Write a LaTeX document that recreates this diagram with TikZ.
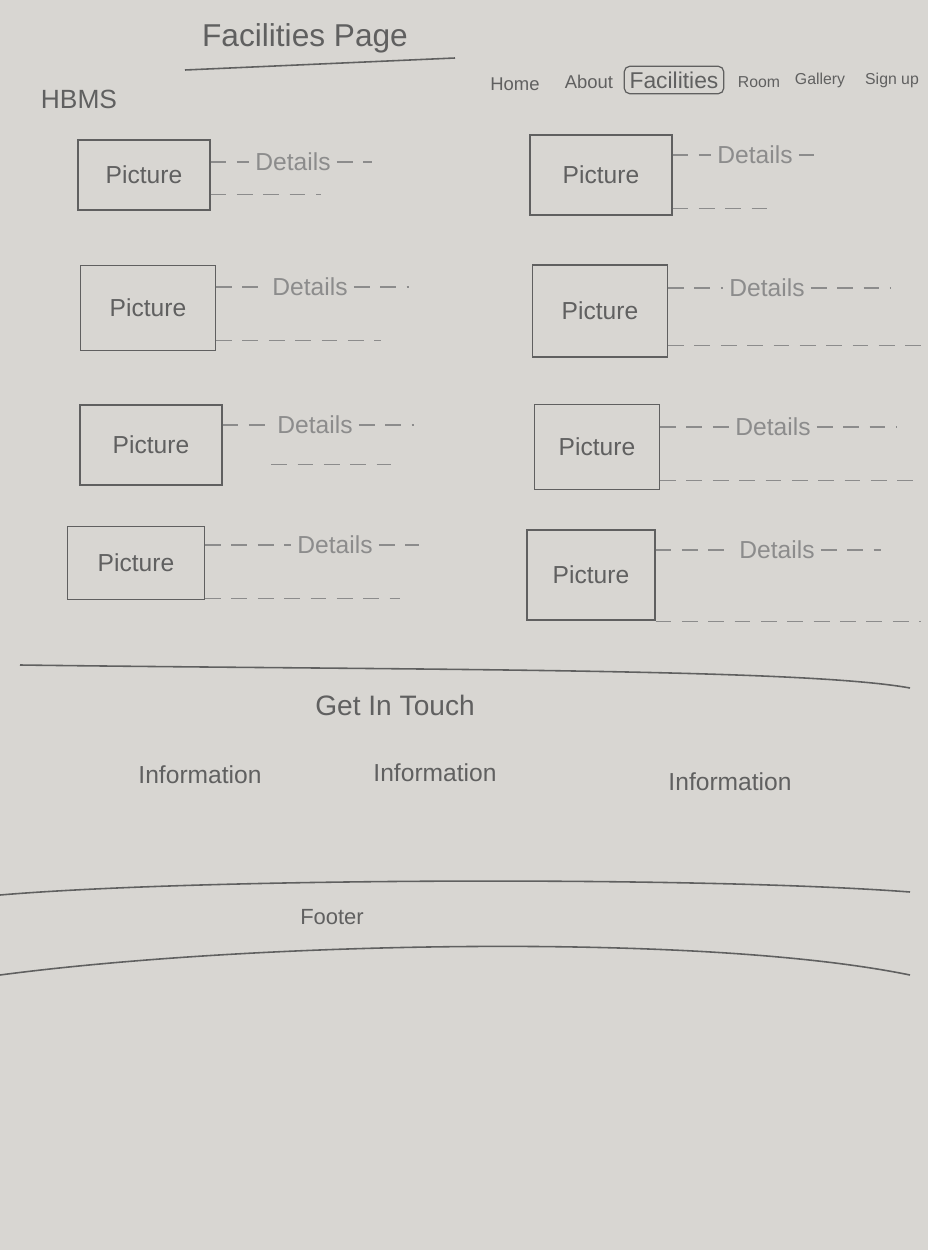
\documentclass[tikz,border=0pt]{standalone}
\usepackage{fontspec}
\setmainfont{Liberation Sans}
\usetikzlibrary{positioning}
\definecolor{paper}{RGB}{216,214,210}
\definecolor{pencil}{RGB}{96,96,96}
\definecolor{faint}{RGB}{140,140,140}

\begin{document}
\begin{tikzpicture}[x=0.02cm,y=-0.02cm,
    every node/.style={text=pencil},
    hand/.style={font=\fontsize{14}{16}\selectfont},
    picbox/.style={draw=pencil, line width=0.7pt, hand},
    navitem/.style={font=\fontsize{10.5}{12}\selectfont},
    detail/.style={hand, text=faint},
    dashline/.style={draw=faint, line width=0.6pt, dash pattern=on 9pt off 6pt},
    rule/.style={draw=pencil, line width=0.9pt}]
    \fill[paper] (0,0) rectangle (928,1250);
    \useasboundingbox (0,0) rectangle (928,1250);

    \node[font=\fontsize{18}{20}\selectfont] (title) at (305,38) {Facilities Page};
    \coordinate (titleL) at (185,70);
    \coordinate (titleR) at (455,58);
    \draw[rule] (titleL) -- (titleR);

    \node[font=\fontsize{15}{18}\selectfont] (brand) at (79,99) {HBMS};
    \node[navitem] (home) at (515,84) {Home};
    \node[navitem] (about) at (589,82) {About};
    \node[draw=pencil, line width=0.7pt, rounded corners=3pt, inner sep=3pt,
        font=\fontsize{13}{15}\selectfont] (facil) at (674,80) {Facilities};
    \node[navitem, font=\fontsize{9}{11}\selectfont] (room) at (759,82) {Room};
    \node[navitem, font=\fontsize{9}{11}\selectfont] (gallery) at (820,80) {Gallery};
    \node[navitem, font=\fontsize{9}{11}\selectfont] (signup) at (892,80) {Sign up};

    \node[picbox, minimum width=2.64cm, minimum height=1.4cm] (picA) at (144,175) {Picture};
    \node[detail] (detA) at (293,162) {Details};
    \draw[dashline] (picA.east |- detA.west) -- (detA.west);
    \draw[dashline] (detA.east) -- ++(35,0);
    \draw[dashline] ([yshift=-10pt]picA.east |- detA.south) -- ++(110,0);

    \node[picbox, minimum width=2.7cm, minimum height=1.7cm] (picB) at (148,308) {Picture};
    \node[detail] (detB) at (310,287) {Details};
    \draw[dashline] (picB.east |- detB.west) -- (detB.west);
    \draw[dashline] (detB.east) -- ++(55,0);
    \draw[dashline] ([yshift=-22pt]picB.east |- detB.south) -- ++(165,0);

    \node[picbox, minimum width=2.84cm, minimum height=1.6cm] (picC) at (151,445) {Picture};
    \node[detail] (detC) at (315,425) {Details};
    \draw[dashline] (picC.east |- detC.west) -- (detC.west);
    \draw[dashline] (detC.east) -- ++(55,0);
    \draw[dashline] ([yshift=-14pt]detC.south west) -- ++(120,0);

    \node[picbox, minimum width=2.74cm, minimum height=1.46cm] (picD) at (136,563) {Picture};
    \node[detail] (detD) at (335,545) {Details};
    \draw[dashline] (picD.east |- detD.west) -- (detD.west);
    \draw[dashline] (detD.east) -- ++(40,0);
    \draw[dashline] ([yshift=-22pt]picD.east |- detD.south) -- ++(195,0);

    \node[picbox, minimum width=2.84cm, minimum height=1.6cm] (picE) at (601,175) {Picture};
    \node[detail] (detE) at (755,155) {Details};
    \draw[dashline] (picE.east |- detE.west) -- (detE.west);
    \draw[dashline] (detE.east) -- ++(15,0);
    \draw[dashline] ([yshift=-22pt]picE.east |- detE.south) -- ++(100,0);

    \node[picbox, minimum width=2.7cm, minimum height=1.84cm] (picF) at (600,311) {Picture};
    \node[detail] (detF) at (767,288) {Details};
    \draw[dashline] (picF.east |- detF.west) -- (detF.west);
    \draw[dashline] (detF.east) -- ++(80,0);
    \draw[dashline] ([yshift=-24pt]picF.east |- detF.south) -- ++(255,0);

    \node[picbox, minimum width=2.5cm, minimum height=1.7cm] (picG) at (597,447) {Picture};
    \node[detail] (detG) at (773,427) {Details};
    \draw[dashline] (picG.east |- detG.west) -- (detG.west);
    \draw[dashline] (detG.east) -- ++(80,0);
    \draw[dashline] ([yshift=-22pt]picG.east |- detG.south) -- ++(255,0);

    \node[picbox, minimum width=2.56cm, minimum height=1.8cm] (picH) at (591,575) {Picture};
    \node[detail] (detH) at (777,550) {Details};
    \draw[dashline] (picH.east |- detH.west) -- (detH.west);
    \draw[dashline] (detH.east) -- ++(60,0);
    \draw[dashline] ([yshift=-32pt]picH.east |- detH.south) -- ++(265,0);

    \draw[rule] (20,665) .. controls (400,670) and (800,668) .. (910,688);
    \node[font=\fontsize{16}{18}\selectfont] (touch) at (395,705) {Get In Touch};
    \node[hand] (infoA) at (200,775) {Information};
    \node[hand] (infoB) at (435,773) {Information};
    \node[hand] (infoC) at (730,782) {Information};

    \draw[rule] (0,895) .. controls (200,878) and (700,876) .. (910,892);
    \node[font=\fontsize{12.5}{15}\selectfont] (footer) at (332,917) {Footer};
    \draw[rule] (0,975) .. controls (250,942) and (700,932) .. (910,975);
\end{tikzpicture}
\end{document}
